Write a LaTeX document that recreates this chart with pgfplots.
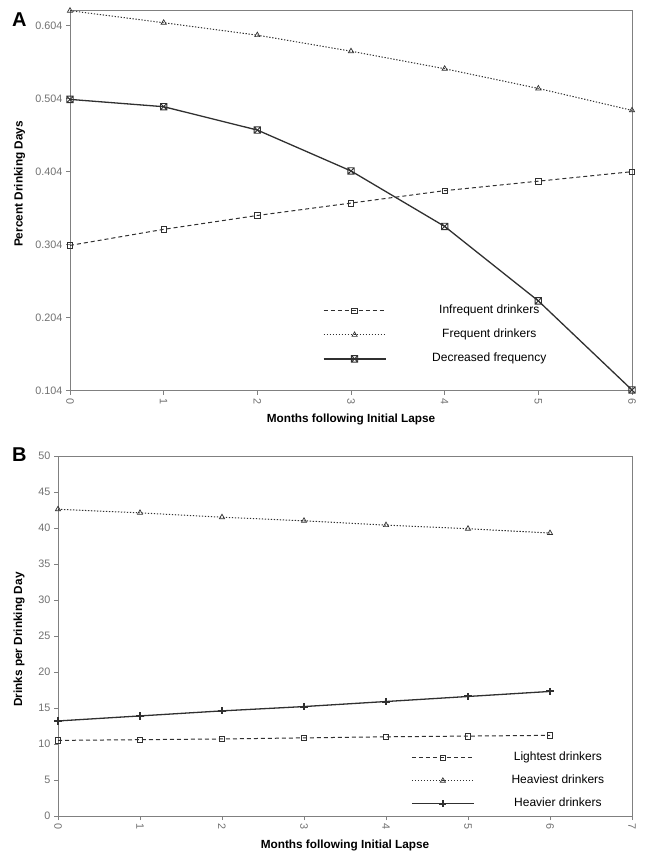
\documentclass[border=0pt]{standalone}
\usepackage{pgfplots}
\pgfplotsset{compat=1.18}
\usepackage{fontspec}
\setmainfont{Liberation Sans}
\definecolor{axgray}{HTML}{808080}
\definecolor{tickgray}{HTML}{707070}
\definecolor{ln}{HTML}{303030}

\pgfdeclareplotmark{boxx}{%
 \pgfpathrectangle{\pgfqpoint{-\pgfplotmarksize}{-\pgfplotmarksize}}{\pgfqpoint{2\pgfplotmarksize}{2\pgfplotmarksize}}%
 \pgfpathmoveto{\pgfqpoint{-\pgfplotmarksize}{-\pgfplotmarksize}}\pgfpathlineto{\pgfqpoint{\pgfplotmarksize}{\pgfplotmarksize}}%
 \pgfpathmoveto{\pgfqpoint{-\pgfplotmarksize}{\pgfplotmarksize}}\pgfpathlineto{\pgfqpoint{\pgfplotmarksize}{-\pgfplotmarksize}}%
 \pgfusepathqstroke}

\pgfplotsset{
  mystyle/.style={
    scale only axis, clip=false,
    axis line style={axgray, line width=0.8bp},
    tick style={axgray, line width=0.7bp},
    major tick length=4bp, tick align=outside, tick pos=left,
    /pgf/number format/assume math mode=true,
    ticklabel style={font=\fontsize{10.8bp}{12bp}\selectfont, text=tickgray},
    xticklabel style={rotate=-90, anchor=west},
    label style={font=\bfseries\fontsize{11.8bp}{13bp}\selectfont},
    legend cell align=center,
    legend image code/.code={\draw[mark repeat=2,mark phase=2,##1] plot coordinates {(0bp,0bp)(31bp,0bp)(62bp,0bp)};},
  },
  dsh/.style={ln, line width=1bp, dash pattern=on 4bp off 3bp, mark=square, mark size=2.8bp, mark options={solid, line width=0.7bp}},
  dot/.style={ln, line width=1bp, dash pattern=on 1.3bp off 1.7bp, mark=triangle, mark size=3bp, mark options={solid, line width=0.7bp}},
}

\begin{document}
\begin{tikzpicture}
% Panel A
\begin{axis}[mystyle,
  at={(70bp,467.3bp)}, anchor=south west, width=562bp, height=380bp,
  xmin=0, xmax=6, ymin=0.104, ymax=0.6245,
  xtick={0,1,2,3,4,5,6},
  ytick={0.104,0.204,0.304,0.404,0.504,0.604},
  yticklabels={0.104,0.204,0.304,0.404,0.504,0.604},
  xlabel={Months following Initial Lapse},
  ylabel={Percent Drinking Days},
  xlabel style={at={(axis description cs:0.5,-0.0745)}, anchor=center},
  ylabel style={at={(axis description cs:-0.0895,0.544)}, anchor=center},
  legend style={at={(rel axis cs:0.4497,0.2250)}, anchor=north west, draw=none, fill=none,
    inner sep=0pt, column sep=46bp, row sep=13bp,
    nodes={inner sep=0pt, text height=8.5bp, text depth=2.5bp},
    font=\fontsize{12bp}{14bp}\selectfont},
]
\addplot[dsh] coordinates {(0,0.303)(1,0.325)(2,0.344)(3,0.361)(4,0.378)(5,0.391)(6,0.404)};
\addlegendentry{Infrequent drinkers}
\addplot[dot] coordinates {(0,0.6245)(1,0.608)(2,0.591)(3,0.569)(4,0.545)(5,0.518)(6,0.488)};
\addlegendentry{Frequent drinkers}
\addplot[ln, line width=1.3bp, mark=boxx, mark size=3.2bp, mark options={line width=0.9bp}] coordinates {(0,0.503)(1,0.493)(2,0.461)(3,0.405)(4,0.329)(5,0.227)(6,0.105)};
\addlegendentry{Decreased frequency}
\end{axis}
% Panel B
\begin{axis}[mystyle,
  at={(58bp,42bp)}, anchor=south west, width=574bp, height=360bp,
  xmin=0, xmax=7, ymin=0, ymax=50,
  xtick={0,1,2,3,4,5,6,7},
  ytick={0,5,10,15,20,25,30,35,40,45,50},
  xlabel={Months following Initial Lapse},
  ylabel={Drinks per Drinking Day},
  xlabel style={at={(axis description cs:0.5,-0.083)}, anchor=center},
  ylabel style={at={(axis description cs:-0.0677,0.49)}, anchor=center},
  legend style={at={(rel axis cs:0.615,0.1775)}, anchor=north west, draw=none, fill=none,
    inner sep=0pt, column sep=37bp, row sep=12bp,
    nodes={inner sep=0pt, text height=8.5bp, text depth=2.5bp},
    font=\fontsize{12bp}{14bp}\selectfont},
]
\addplot[dsh] coordinates {(0,10.5)(1,10.6)(2,10.7)(3,10.85)(4,11.0)(5,11.1)(6,11.2)};
\addlegendentry{Lightest drinkers}
\addplot[dot] coordinates {(0,42.6)(1,42.1)(2,41.5)(3,41.0)(4,40.4)(5,39.9)(6,39.3)};
\addlegendentry{Heaviest drinkers}
\addplot[ln, line width=1.3bp, mark=+, mark size=3.6bp, mark options={line width=2bp}] coordinates {(0,13.2)(1,13.9)(2,14.6)(3,15.2)(4,15.9)(5,16.6)(6,17.3)};
\addlegendentry{Heavier drinkers}
\end{axis}
\node[anchor=north west, inner sep=0pt, font=\bfseries\fontsize{20bp}{22bp}\selectfont] at (12bp,845bp) {A};
\node[anchor=north west, inner sep=0pt, font=\bfseries\fontsize{20bp}{22bp}\selectfont] at (12bp,410bp) {B};
\pgfresetboundingbox
\path (0bp,0bp) rectangle (646bp,858bp);
\end{tikzpicture}
\end{document}
